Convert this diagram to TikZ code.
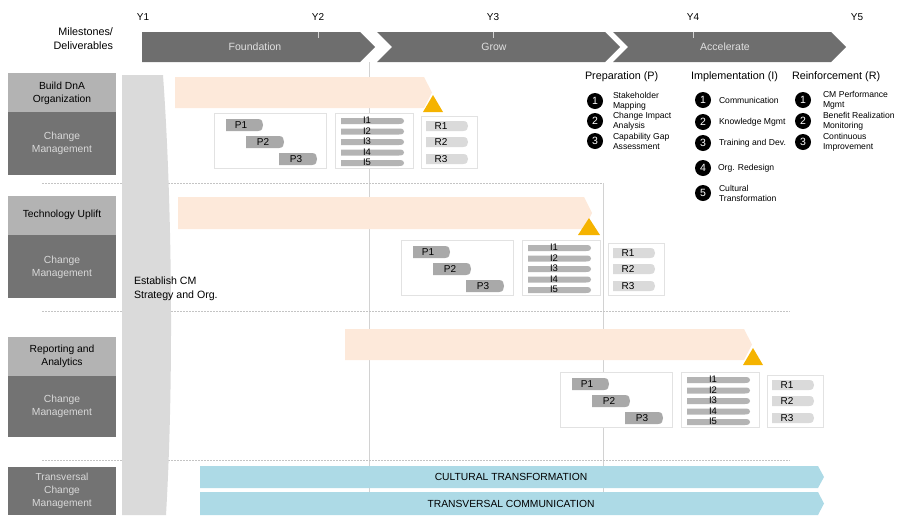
\documentclass[tikz,border=0pt]{standalone}
\usepackage{fontspec}
\setmainfont{Liberation Sans}
\definecolor{chev}{HTML}{6E6E6E}
\definecolor{darkbox}{HTML}{737373}
\definecolor{lightbox}{HTML}{B3B3B3}
\definecolor{bandgray}{HTML}{DADADA}
\definecolor{peach}{HTML}{FDE9DA}
\definecolor{amber}{HTML}{F5B300}
\definecolor{ptagc}{HTML}{A9A9A9}
\definecolor{itagc}{HTML}{B4B4B4}
\definecolor{rtagc}{HTML}{DADADA}
\definecolor{panelc}{HTML}{E2E2E2}
\definecolor{sepc}{HTML}{C4C4C4}
\definecolor{vlinec}{HTML}{D2D2D2}
\definecolor{skyc}{HTML}{ADDAE6}

% tag with a rounded point on its right end: left, top, width, height, fill
\newcommand\roundtag[5]{%
  \fill[#5] (#1,#2) -- ({#1+#3-5},#2)
    .. controls ({#1+#3-1},#2) and ({#1+#3},{#2+#4*0.25}) .. ({#1+#3},{#2+#4/2})
    .. controls ({#1+#3},{#2+#4*0.75}) and ({#1+#3-1},{#2+#4}) .. ({#1+#3-5},{#2+#4})
    -- (#1,{#2+#4}) -- cycle;}

% one change-management block (P, I and R panels): x shift, y shift, name prefix
\newcommand\cmrow[3]{%
  \begin{scope}[shift={(#1,#2)}]
    \draw[panel] (214,113) rectangle (326,168);
    \draw[panel] (335,113) rectangle (413,168);
    \draw[panel] (421,116) rectangle (477,168);
    \roundtag{226}{119}{37}{12}{ptagc}
    \roundtag{246}{136}{38}{12}{ptagc}
    \roundtag{279}{153}{38}{12}{ptagc}
    \node[tagtxt] (#3p1) at (241,125) {P1};
    \node[tagtxt] (#3p2) at (263,142) {P2};
    \node[tagtxt] (#3p3) at (296,159) {P3};
    \foreach \k/\yy in {1/118,2/128.5,3/139,4/149.5,5/160}{
      \roundtag{341}{\yy}{63}{6}{itagc}
      \node[itxt] (#3i\k) at (367,{\yy+2.5}) {I\k};
    }
    \foreach \k/\yy in {1/121,2/137,3/154}{
      \roundtag{426}{\yy}{42}{10}{rtagc}
      \node[tagtxt] (#3r\k) at (441,{\yy+5}) {R\k};
    }
  \end{scope}}

\begin{document}
\begin{tikzpicture}[x=1pt,y=-1pt,
  every node/.style={inner sep=0pt, outer sep=0pt},
  lbl/.style={font=\fontsize{10}{11}\selectfont, align=center},
  boxtxt/.style={font=\fontsize{10.3}{13}\selectfont, align=center},
  chevtxt/.style={font=\fontsize{10.5}{11}\selectfont, text=white!88!black},
  panel/.style={draw=panelc, line width=0.6pt, fill=white},
  tagtxt/.style={font=\fontsize{10}{10}\selectfont},
  itxt/.style={font=\fontsize{9.5}{9.5}\selectfont},
  head/.style={font=\fontsize{10.8}{12}\selectfont, anchor=west},
  num/.style={circle, fill=black, text=white, minimum size=16pt, font=\fontsize{10.5}{10.5}\selectfont},
  item/.style={font=\fontsize{8.6}{10}\selectfont, align=left, anchor=west},
  sep/.style={draw=sepc, line width=0.8pt, dash pattern=on 2pt off 1pt},
  vline/.style={draw=vlinec, line width=0.5pt},
  bartxt/.style={font=\fontsize{10.3}{11}\selectfont}]
\useasboundingbox (0,0) rectangle (899,515);

% year scale
\node[lbl] (y1) at (143,17) {Y1};
\node[lbl] (y2) at (318,17) {Y2};
\node[lbl] (y3) at (493,17) {Y3};
\node[lbl] (y4) at (693,17) {Y4};
\node[lbl] (y5) at (857,17) {Y5};
\node[lbl, align=right, anchor=east, font=\fontsize{10.8}{14}\selectfont] (ms) at (113,39) {Milestones/\\Deliverables};

% phase chevrons
\fill[chev] (142,32) -- (360,32) -- (375,47) -- (360,62) -- (142,62) -- cycle;
\fill[chev] (377,32) -- (605,32) -- (620,47) -- (605,62) -- (377,62) -- (392,47) -- cycle;
\fill[chev] (613,32) -- (831,32) -- (846,47) -- (831,62) -- (613,62) -- (628,47) -- cycle;
\foreach \t in {318,493,693}{\draw[white!70!chev, line width=0.7pt] (\t,32) -- (\t,38);}
\node[chevtxt] (foundation) at (255,47) {Foundation};
\node[chevtxt] (grow) at (494,47) {Grow};
\node[chevtxt] (accelerate) at (725,47) {Accelerate};

% guide lines
\draw[vline] (369,62) -- (369,515);
\draw[vline] (603,183) -- (603,515);
\draw[sep] (42,183) -- (603,183);
\draw[sep] (42,311) -- (790,311);
\draw[sep] (42,460) -- (790,460);

% row headers
\fill[lightbox] (8,73) rectangle (116,112);
\fill[darkbox] (8,112) rectangle (116,175);
\fill[lightbox] (8,196) rectangle (116,235);
\fill[darkbox] (8,235) rectangle (116,298);
\fill[lightbox] (8,337) rectangle (116,376);
\fill[darkbox] (8,376) rectangle (116,437);
\fill[darkbox] (8,467) rectangle (116,515);
\node[boxtxt] (dna) at (62,93) {Build DnA\\Organization};
\node[boxtxt, text=white!85!black] (cm1) at (62,143) {Change\\Management};
\node[boxtxt] (tech) at (62,215) {Technology Uplift};
\node[boxtxt, text=white!85!black] (cm2) at (62,267) {Change\\Management};
\node[boxtxt] (rep) at (62,356) {Reporting and\\Analytics};
\node[boxtxt, text=white!85!black] (cm3) at (62,406) {Change\\Management};
\node[boxtxt, text=white!85!black, font=\fontsize{10.2}{13}\selectfont] (tcm) at (62,491) {Transversal\\Change\\Management};

% CM strategy band
\fill[bandgray] (122,75) -- (163,75) .. controls (172,200) and (174,380) .. (166,515) -- (122,515) -- cycle;
\node[align=left, anchor=west, font=\fontsize{10.6}{14}\selectfont] (est) at (134,289) {Establish CM\\Strategy and Org.};

% workstream arrows with milestones
\fill[peach] (175,77) -- (424,77) -- (432,92.5) -- (424,108) -- (175,108) -- cycle;
\fill[amber] (433,95) -- (443,112) -- (423,112) -- cycle;
\fill[peach] (178,197) -- (584,197) -- (592,213) -- (584,229) -- (178,229) -- cycle;
\fill[amber] (589,218) -- (600,235) -- (578,235) -- cycle;
\fill[peach] (345,329) -- (744,329) -- (752,344.5) -- (744,360) -- (345,360) -- cycle;
\fill[amber] (753,348) -- (763,365) -- (743,365) -- cycle;

% change management blocks
\cmrow{0}{0}{a}
\cmrow{187}{127}{b}
\cmrow{346}{259}{c}

% legend
\node[head] (hp) at (585,77) {Preparation (P)};
\node[head] (hi) at (691,77) {Implementation (I)};
\node[head] (hr) at (792,77) {Reinforcement (R)};
\node[num] (pn1) at (595,101) {1};
\node[num] (pn2) at (595,121) {2};
\node[num] (pn3) at (595,141) {3};
\node[item] (pt1) at (613,101) {Stakeholder\\Mapping};
\node[item] (pt2) at (613,121) {Change Impact\\Analysis};
\node[item] (pt3) at (613,141) {Capability Gap\\Assessment};
\node[num] (in1) at (703,100) {1};
\node[num] (in2) at (703,122) {2};
\node[num] (in3) at (703,143) {3};
\node[num] (in4) at (703,168) {4};
\node[num] (in5) at (703,193) {5};
\node[item] (it1) at (719,100) {Communication};
\node[item] (it2) at (719,122) {Knowledge Mgmt};
\node[item] (it3) at (719,143) {Training and Dev.};
\node[item] (it4) at (718,168) {Org. Redesign};
\node[item] (it5) at (719,193) {Cultural\\Transformation};
\node[num] (rn1) at (803,100) {1};
\node[num] (rn2) at (803,121) {2};
\node[num] (rn3) at (803,142) {3};
\node[item] (rt1) at (823,100) {CM Performance\\Mgmt};
\node[item] (rt2) at (823,121) {Benefit Realization\\Monitoring};
\node[item] (rt3) at (823,142) {Continuous\\Improvement};

% transversal streams
\fill[skyc] (200,466) -- (818,466) -- (824,477) -- (818,488) -- (200,488) -- cycle;
\fill[skyc] (200,492) -- (818,492) -- (824,503.5) -- (818,515) -- (200,515) -- cycle;
\node[bartxt] (cult) at (511,477) {CULTURAL TRANSFORMATION};
\node[bartxt] (comm) at (511,504) {TRANSVERSAL COMMUNICATION};
\end{tikzpicture}
\end{document}
